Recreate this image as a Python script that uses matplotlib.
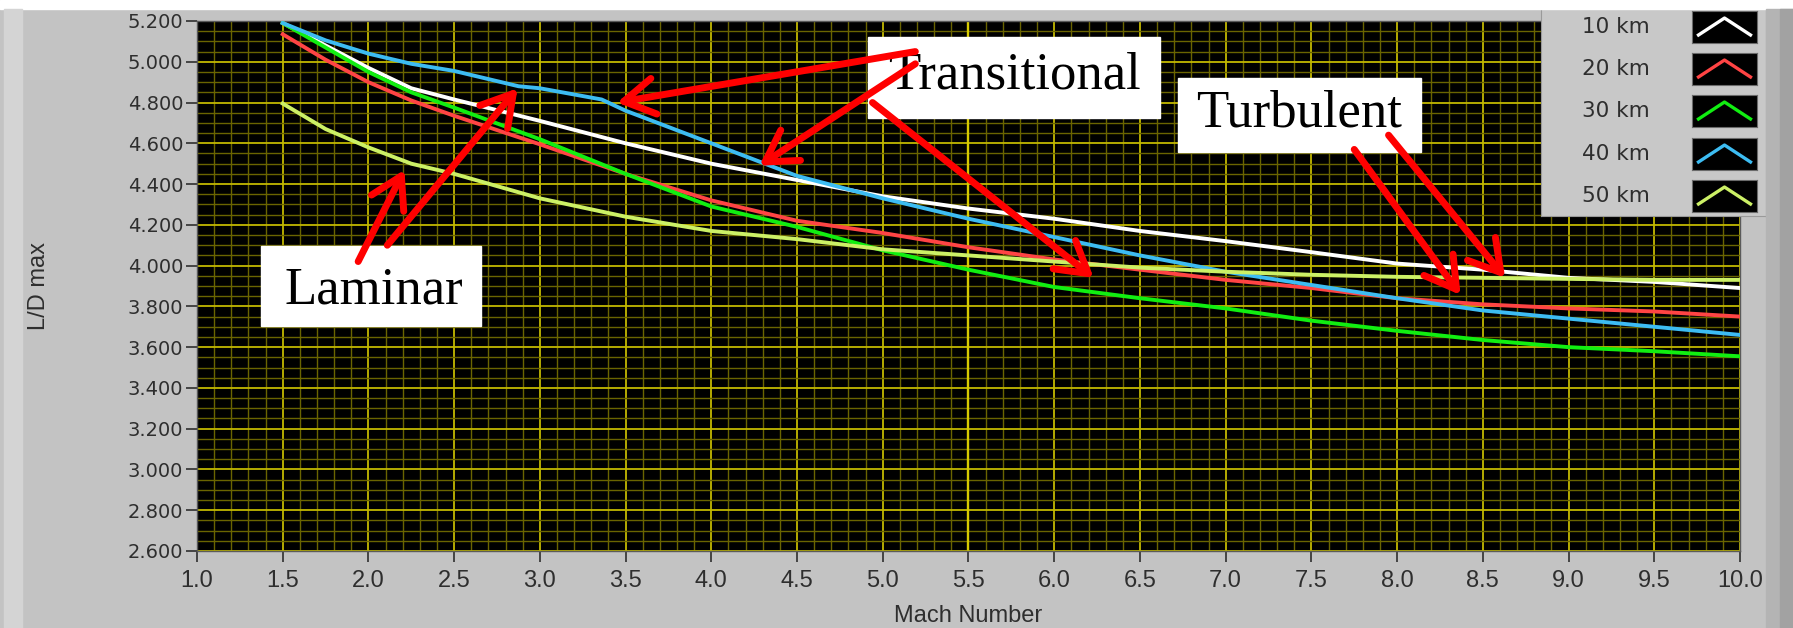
import numpy as np
import matplotlib.pyplot as plt
from matplotlib.patches import Rectangle
from matplotlib.ticker import MultipleLocator, FormatStrFormatter

# ── data ────────────────────────────────────────────────────────────────────
mach = [1.5, 1.75, 2.0, 2.25, 2.5, 3.0, 3.5, 4.0, 4.5, 5.0, 5.5, 6.0, 6.5,
        7.0, 7.5, 8.0, 8.5, 9.0, 9.5, 10.0]

ld_10km = [5.19, 5.08, 4.97, 4.87, 4.815, 4.71, 4.60, 4.50, 4.42, 4.34, 4.28,
           4.23, 4.17, 4.12, 4.066, 4.01, 3.98, 3.94, 3.92, 3.89]
ld_20km = [5.135, 5.01, 4.90, 4.81, 4.735, 4.595, 4.45, 4.32, 4.22, 4.16, 4.09,
           4.03, 3.98, 3.93, 3.89, 3.84, 3.81, 3.79, 3.775, 3.75]
ld_30km = [5.19, 5.07, 4.95, 4.85, 4.775, 4.62, 4.45, 4.29, 4.19, 4.075, 3.98,
           3.895, 3.84, 3.79, 3.73, 3.68, 3.635, 3.60, 3.58, 3.555]
ld_50km = [4.795, 4.67, 4.58, 4.50, 4.45, 4.33, 4.24, 4.17, 4.13, 4.08, 4.05,
           4.02, 3.99, 3.97, 3.955, 3.945, 3.94, 3.935, 3.93, 3.93]

# 40 km has a kink (transition) so it gets its own Mach points
mach_40km = [1.5, 1.75, 2.0, 2.25, 2.5, 2.875, 3.0, 3.36, 3.5, 4.0, 4.5, 5.0,
             5.5, 6.0, 6.5, 7.0, 7.5, 8.0, 8.5, 9.0, 9.5, 10.0]
ld_40km = [5.19, 5.105, 5.04, 4.99, 4.955, 4.88, 4.87, 4.815, 4.76, 4.60, 4.44,
           4.33, 4.23, 4.14, 4.05, 3.97, 3.905, 3.84, 3.78, 3.74, 3.70, 3.66]

altitudes = ["10 km", "20 km", "30 km", "40 km", "50 km"]
colours = ["#ffffff", "#ff4444", "#11ee11", "#3dbcf2", "#ccf066"]

series = [(mach, ld_10km), (mach, ld_20km), (mach, ld_30km),
          (mach_40km, ld_40km), (mach, ld_50km)]

# ── figure / frame ──────────────────────────────────────────────────────────
W, H = 1793, 628
GRIS = "#c3c3c3"
TXT = "#2e2e2e"
SANS_NARROW = ["Liberation Sans", "DejaVu Sans"]
fig = plt.figure(figsize=(W / 100, H / 100), dpi=100, facecolor=GRIS)


def fx(px):
    return px / W


def fy(py):
    return 1 - py / H


def fig_rect(x0, y0, x1, y1, color, z=0):
    fig.patches.append(Rectangle((fx(x0), fy(y1)), fx(x1) - fx(x0), fy(y0) - fy(y1),
                                 transform=fig.transFigure, color=color, zorder=z))


fig_rect(0, 0, W, 9, "white")
fig_rect(4, 9, 22, H, "#d4d4d4")
fig_rect(1766, 9, 1793, H, "#b4b4b4")
fig_rect(1780, 9, 1793, H, "#a2a2a2")

ax = fig.add_axes([fx(197), fy(551), fx(1740) - fx(197), fy(21) - fy(551)])
ax.set_facecolor("black")

for (m, v), c in zip(series, colours):
    ax.plot(m, v, color=c, lw=2.8, solid_joinstyle="round", zorder=3)

ax.set_xlim(1.0, 10.0)
ax.set_ylim(2.6, 5.2)
ax.xaxis.set_major_locator(MultipleLocator(0.5))
ax.xaxis.set_minor_locator(MultipleLocator(0.1))
ax.yaxis.set_major_locator(MultipleLocator(0.2))
ax.yaxis.set_minor_locator(MultipleLocator(0.05))
ax.xaxis.set_major_formatter(FormatStrFormatter("%.1f"))
ax.yaxis.set_major_formatter(FormatStrFormatter("%.3f"))
ax.set_axisbelow(True)
ax.grid(which="minor", color="#6a6400", lw=1.0)
ax.grid(which="major", color="#c2b800", lw=1.3)
ax.axvline(5.5, color="#d6ca00", lw=1.7, zorder=1)

ax.tick_params(which="major", direction="out", length=8, width=1.3,
               color="#3a3a3a", labelcolor=TXT)
ax.tick_params(which="minor", length=0)
ax.tick_params(axis="x", pad=6)
ax.tick_params(axis="y", pad=2)
for lab in ax.get_yticklabels():
    lab.set_fontfamily("DejaVu Sans")
    lab.set_fontsize(14)
for lab in ax.get_xticklabels():
    lab.set_fontfamily(SANS_NARROW)
    lab.set_fontsize(17)
for sp in ax.spines.values():
    sp.set_color("#5a5a5a")
    sp.set_linewidth(1)

ax.set_xlabel("Mach Number", fontsize=17, color=TXT, family=SANS_NARROW,
              labelpad=9)
ax.set_ylabel("L/D max", fontsize=17, color=TXT, family=SANS_NARROW,
              labelpad=56)

# ── annotation boxes and red arrows ─────────────────────────────────────────
caixas = [
    ("Transitional", 4.914, 6.617, 4.724, 5.122, 5.77, 4.935),
    ("Turbulent", 6.722, 8.14, 4.557, 4.92, 7.43, 4.744),
    ("Laminar", 1.373, 2.657, 3.704, 4.096, 2.03, 3.88),
]
for txt, x0, x1, y0, y1, tx, ty in caixas:
    ax.add_patch(Rectangle((x0, y0), x1 - x0, y1 - y0, color="white", zorder=5))
    ax.text(tx, ty, txt, fontsize=38, family="Liberation Serif", color="black",
            ha="center", va="center", zorder=6)

setas = [
    ((1.94, 4.02), (2.21, 4.47)),
    ((2.11, 4.10), (2.87, 4.87)),
    ((5.19, 5.05), (3.45, 4.80)),
    ((5.19, 4.99), (4.28, 4.49)),
    ((4.94, 4.80), (6.23, 3.94)),
    ((7.75, 4.57), (8.37, 3.856)),
    ((7.95, 4.64), (8.63, 3.94)),
]
for tail, tip in setas:
    ax.annotate("", xy=tip, xytext=tail, zorder=7,
                arrowprops=dict(arrowstyle="->,head_length=1.1,head_width=0.65",
                                color="#ff0000", lw=5, shrinkA=0, shrinkB=0,
                                mutation_scale=20, joinstyle="round",
                                capstyle="round"))

# ── LabVIEW style legend panel ──────────────────────────────────────────────
leg = fig.add_axes([fx(1541), fy(216), fx(1766) - fx(1541), fy(6) - fy(216)])
leg.set_facecolor("#c8c8c8")
leg.set_xticks([])
leg.set_yticks([])
for sp in leg.spines.values():
    sp.set_color("#9a9a9a")

linhas_y = [27, 69, 111, 154, 196]
for nome, c, py in zip(altitudes, colours, linhas_y):
    fig.text(fx(1582), fy(py), nome, fontsize=15.5, color=TXT,
             family="DejaVu Sans", ha="left", va="center")
    sw = fig.add_axes([fx(1692), fy(py + 16), fx(1757) - fx(1692), 32 / H])
    sw.set_facecolor("black")
    sw.set_xticks([])
    sw.set_yticks([])
    sw.set_xlim(0, 1)
    sw.set_ylim(0, 1)
    for sp in sw.spines.values():
        sp.set_color("#6a6a6a")
    sw.plot([0.1, 0.5, 0.9], [0.25, 0.78, 0.25], color=c, lw=2.4)

plt.savefig("out.png", dpi=100, facecolor=fig.get_facecolor())
